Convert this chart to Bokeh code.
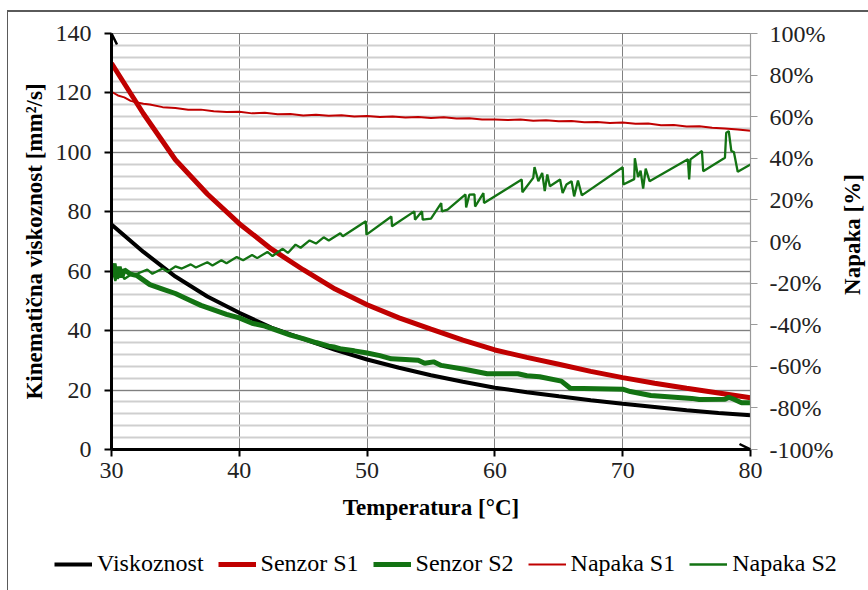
import math
from bokeh.plotting import figure
from bokeh.layouts import row, column
from bokeh.models import (Range1d, LinearAxis, SingleIntervalTicker, PrintfTickFormatter,
                          Legend, LegendItem, Arrow, OpenHead, Spacer, Label)
from bokeh.embed import file_html
from bokeh.resources import INLINE

# ---------------- data ----------------
visc_t = [30, 32.5, 35, 37.5, 40, 42.5, 45, 47.5, 50, 52.5, 55, 57.5, 60, 62.5, 65, 67.5, 70, 72.5, 75, 77.5, 80]
visc = [75.7, 66.5, 58.2, 51.5, 46.0, 41.0, 37.2, 33.5, 30.3, 27.5, 25.0, 22.8, 20.8, 19.3, 17.9, 16.6, 15.4, 14.3, 13.2, 12.3, 11.5]

s1_t = [30, 32.5, 35, 37.5, 40, 42.5, 45, 47.5, 50, 52.5, 55, 57.5, 60, 62.5, 65, 67.5, 70, 72.5, 75, 77.5, 80]
s1 = [130, 113, 97.5, 86, 76, 67.5, 60.5, 54, 48.7, 44.3, 40.5, 36.8, 33.5, 31, 28.7, 26.3, 24.2, 22.3, 20.6, 19, 17.4]

s2_t = [30, 30.2, 30.4, 30.6, 30.8, 31.0, 31.5, 32, 33, 34, 35, 36, 37, 38, 39, 40, 41, 42, 43, 44, 45,
        46, 47, 47.4, 48, 49, 50, 51, 51.9, 53, 54, 54.5, 55.2, 55.8, 57.6, 59.4, 61.8, 62.5, 63.5,
        65.2, 65.9, 70, 70.6, 72.2, 75.4, 76, 78, 78.3, 78.7, 79.3, 80]
s2 = [60, 62.5, 57.5, 61.5, 58, 60.5, 59, 58.5, 55.5, 54, 52.5, 50.5, 48.5, 47, 45.5, 44.3, 42.5, 41.5, 40, 38.5, 37.3,
      36, 34.8, 34.5, 33.8, 33.2, 32.5, 31.6, 30.5, 30.3, 30, 29, 29.5, 28.3, 27, 25.5, 25.5, 24.8, 24.5,
      23, 20.6, 20.3, 19.5, 18.2, 17.2, 16.8, 16.9, 17.6, 16.9, 15.7, 15.7]

ns1_t = [30, 30.5, 31, 31.5, 32, 32.5, 33, 34, 35, 36, 37, 38, 39, 40, 41, 42, 43, 44, 45, 46, 47, 48, 49,
         50, 51, 52, 53, 54, 55, 56, 57, 58, 59, 60, 61, 62, 63, 64, 65, 66, 67, 68, 69, 70, 71, 72, 73,
         74, 75, 76, 77, 78, 79, 80]
ns1 = [72, 70.2, 69.3, 67.6, 66.8, 66.2, 65.9, 64.6, 64.2, 63.3, 63.4, 62.6, 62.3, 62.4, 61.6, 61.9, 61.2, 61.3,
       60.6, 60.9, 60.4, 60.7, 60.1, 60.3, 59.8, 60.1, 59.6, 59.9, 59.4, 59.7, 59.1, 59.2, 58.6, 58.7, 58.4,
       58.6, 58.0, 58.3, 57.8, 57.9, 57.3, 57.5, 57.0, 57.2, 56.6, 56.7, 55.9, 56.0, 55.3, 55.4, 54.7, 54.3,
       53.8, 53.2]

ns2_t = [30, 30.3, 30.6, 31, 31.5, 32, 32.8, 33.2, 34, 34.4, 35, 35.5, 36.2, 36.6, 37.5, 37.9, 38.6, 39.0,
         39.8, 40.3, 41.0, 41.4, 42.2, 42.6, 43.4, 43.8, 44.4, 44.8, 45.5, 46.0, 46.6, 47.0, 47.9, 48.1,
         49.9, 49.95, 51.9, 51.95, 53.7, 53.75, 54.3, 54.35, 55.0, 55.8, 55.85, 56.3, 57.7, 57.75, 58.0,
         58.4, 58.45, 59.1, 59.15, 62.1, 62.15, 63.0, 63.1, 63.4, 63.7, 63.9, 64.1, 64.3, 65.1, 65.3,
         65.6, 66.0, 66.2, 66.5, 66.8, 70.0, 70.05, 70.9, 70.95, 71.2, 71.4, 71.6, 71.8, 72.1, 75.1,
         75.2, 75.3, 76.2, 76.3, 78.0, 78.1, 78.3, 78.5, 78.7, 79.0, 80]
ns2 = [-12, -19, -13, -18, -16, -15.5, -13.5, -15.5, -13, -14.5, -12, -13, -11, -12.5, -10, -11.5, -9, -10.5,
       -7.5, -9, -6.5, -8, -5, -7, -3.5, -5.5, -1.5, -3, 0.5, -1, 2, 0.5, 4, 2.5,
       9.7, 3.3, 12, 7.3, 14.5, 10.5, 14.5, 10.5, 11, 18.5, 14.5, 15.3, 22.6, 16.4, 22.5,
       22.7, 16.8, 23.3, 18.5, 29.8, 23.7, 30.6, 35.8, 29, 33, 24.2, 32.2, 26.6, 29.8, 23.3,
       27.4, 29, 21.7, 29.3, 22.2, 35.7, 27.4, 30, 40, 31, 34, 25.4, 35, 29, 39.5,
       29.8, 39.5, 43.5, 33.8, 40.3, 52.3, 53, 43.5, 43, 33.5, 37]

series_names = ["Viskoznost", "Senzor S1", "Senzor S2", "Napaka S1", "Napaka S2"]

x_ticks_interval = 10
y_ticks_interval = 20
pct_ticks_interval = 20

FONT = "Liberation Serif"
RED = "#c00000"
GREEN = "#137313"
BORDER = "1px solid #5a5a5a"
TOP_BORDER = "2px solid #5a5a5a"

p = figure(width=831, height=517, x_range=Range1d(30, 80), y_range=Range1d(0, 140),
           output_backend="svg", toolbar_location=None,
           min_border_left=103, min_border_top=21, min_border_right=89, min_border_bottom=80)
p.styles = {"border-top": TOP_BORDER, "border-left": BORDER}
p.outline_line_color = "#8a8a8a"
p.outline_line_width = 1
p.background_fill_color = "white"

p.extra_y_ranges = {"pct": Range1d(-100, 100)}

# axes
xax = p.xaxis[0]
xax.ticker = SingleIntervalTicker(interval=x_ticks_interval, num_minor_ticks=0)
yax = p.yaxis[0]
yax.ticker = SingleIntervalTicker(interval=y_ticks_interval, num_minor_ticks=5)

for ax in (xax, yax):
    ax.axis_line_color = "black"
    ax.axis_line_width = 3
    ax.major_tick_line_color = "black"
    ax.major_tick_line_width = 2
    ax.major_tick_out = 7
    ax.major_tick_in = 0
    ax.minor_tick_line_color = None
    ax.major_label_text_font = FONT
    ax.major_label_text_font_size = "24px"
    ax.major_label_text_color = "#222222"
    ax.axis_label_text_font = FONT
    ax.axis_label_text_font_size = "23px"
    ax.axis_label_text_font_style = "bold"
    ax.axis_label_text_color = "black"

xax.axis_label = "Temperatura [°C]"
xax.major_label_standoff = 6
xax.axis_label_standoff = 14
yax.axis_label = "Kinematična viskoznost [mm²/s]"
yax.major_label_standoff = 13
yax.axis_label_standoff = 6

rax = LinearAxis(y_range_name="pct", ticker=SingleIntervalTicker(interval=pct_ticks_interval, num_minor_ticks=0),
                 formatter=PrintfTickFormatter(format="%d%%"))
rax.axis_line_color = "#9a9a9a"
rax.axis_line_width = 1.2
rax.major_tick_line_color = "#9a9a9a"
rax.major_tick_line_width = 1.2
rax.major_tick_out = 7
rax.major_tick_in = 0
rax.minor_tick_line_color = None
rax.major_label_text_font = FONT
rax.major_label_text_font_size = "24px"
rax.major_label_text_color = "#222222"
rax.major_label_standoff = 12
p.add_layout(rax, "right")

# grids
p.xgrid.grid_line_color = "#808080"
p.xgrid.grid_line_width = 1
p.ygrid.grid_line_color = "#808080"
p.ygrid.grid_line_width = 1
p.ygrid.minor_grid_line_color = "#cfcfcf"
p.ygrid.minor_grid_line_width = 1.8

# series
styles = [("black", 4), (RED, 5), (GREEN, 5), (RED, 2), (GREEN, 2.3)]
series_xy = [(visc_t, visc), (s1_t, s1), (s2_t, s2), (ns1_t, ns1), (ns2_t, ns2)]
for i, ((xs, ys), (col, lw)) in enumerate(zip(series_xy, styles)):
    if i < 3:
        p.line(xs, ys, line_color=col, line_width=lw)
    else:
        p.line(xs, ys, line_color=col, line_width=lw, y_range_name="pct")

# axis arrows
p.add_layout(Arrow(end=OpenHead(size=11, line_width=2.5, line_color="black"),
                   x_start=30, y_start=120, x_end=30, y_end=140, line_color="black", line_width=3))
p.add_layout(Arrow(end=OpenHead(size=11, line_width=2.5, line_color="black"),
                   x_start=75, y_start=0, x_end=80, y_end=0, line_color="black", line_width=3))

# right-hand strip carrying the secondary axis title (reads bottom-to-top)
rf = figure(width=30, height=517, output_backend="svg", toolbar_location=None,
            min_border_left=0, min_border_right=0, min_border_top=21, min_border_bottom=80)
rf.styles = {"border-top": TOP_BORDER}
rf.xaxis.visible = False
rf.yaxis.visible = False
rf.xgrid.visible = False
rf.ygrid.visible = False
rf.outline_line_color = None
rf.add_layout(Label(x=14, y=215, x_units="screen", y_units="screen", text="Napaka [%]",
                    angle=math.pi / 2, text_align="center", text_baseline="middle",
                    text_font=FONT, text_font_size="23px", text_font_style="bold", text_color="black"))

# legend strip: a separate root under the chart (its own frame spans the full width)
lf = figure(width=861, height=63, x_range=Range1d(0, 1), y_range=Range1d(0, 1),
            output_backend="svg", toolbar_location=None, min_border=0)
lf.styles = {"border-left": BORDER}
lf.xaxis.visible = False
lf.yaxis.visible = False
lf.xgrid.visible = False
lf.ygrid.visible = False
lf.outline_line_color = None
items = []
for name, (xs, ys), (col, lw) in zip(series_names, series_xy, styles):
    # same series, but they fall outside this strip's 0..1 ranges, so only the legend sample shows
    r = lf.line(xs, ys, line_color=col, line_width=lw)
    items.append(LegendItem(label=name, renderers=[r]))
legend = Legend(items=items, orientation="horizontal", location=(46, 13),
                border_line_color=None, background_fill_alpha=0,
                label_text_font=FONT, label_text_font_size="24px", label_text_color="black",
                glyph_width=38, glyph_height=20, label_standoff=5, spacing=14, padding=0, margin=0)
lf.add_layout(legend, "center")

main = row(Spacer(width=7, height=10), column(Spacer(width=10, height=10), row(p, rf)))
strip = row(Spacer(width=7, height=10), lf)
open("out.html", "w").write(file_html([main, strip], INLINE))
